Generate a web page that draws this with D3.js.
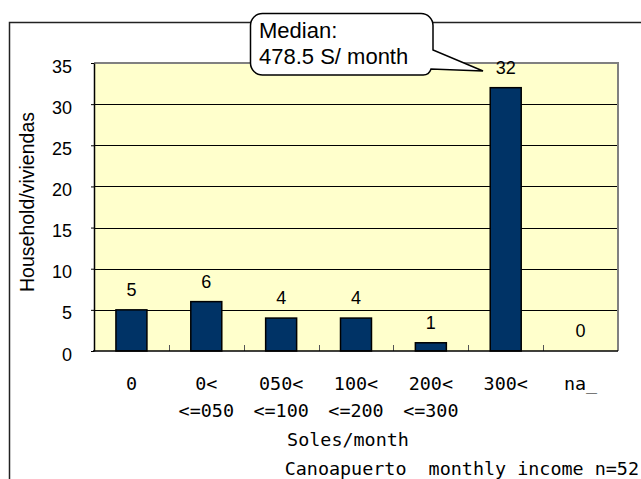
<!DOCTYPE html>
<html>
<head>
<meta charset="utf-8">
<script src="https://cdn.jsdelivr.net/npm/d3@7"></script>
<style>
  html, body { margin: 0; padding: 0; background: #fff; }
  svg { display: block; }
</style>
</head>
<body>
<svg id="chart" width="641" height="479"></svg>
<script>
// Income brackets (two-line tick labels) and household counts
const categories = ["0", "0<=050", "050<=100", "100<=200", "200<=300", "300<", "na_"];
const labelTop = ["0", "0<", "050<", "100<", "200<", "300<", "na_"];
const labelBottom = ["", "<=050", "<=100", "<=200", "<=300", "", ""];
const households = [5, 6, 4, 4, 1, 32, 0];
const yTicks = [0, 5, 10, 15, 20, 25, 30, 35];
const yTitle = "Household/viviendas";
const xTitle = "Soles/month";
const footnote = "Canoapuerto  monthly income n=52";
const calloutLines = ["Median:", "478.5 S/ month"];

const svg = d3.select("#chart");
const W = 641, H = 479;
const plot = { left: 94, right: 618, top: 63, bottom: 351 };

const sans = "'Liberation Sans', Arial, sans-serif";
const mono = "'DejaVu Sans Mono', monospace";

svg.append("rect").attr("width", W).attr("height", H).attr("fill", "#fff");

// outer chart frame (open to the right and bottom)
svg.append("path")
  .attr("d", `M9.5,${H + 2} V22.5 H${W + 2}`)
  .attr("fill", "none").attr("stroke", "#222").attr("stroke-width", 1.5);

const x = d3.scaleBand().domain(categories).range([plot.left, plot.right]).padding(0);
const y = d3.scaleLinear().domain([0, 35]).range([plot.bottom, plot.top]);
const barW = x.bandwidth() * 0.414;

// plot area background
svg.append("rect")
  .attr("x", plot.left).attr("y", plot.top)
  .attr("width", plot.right - plot.left).attr("height", plot.bottom - plot.top)
  .attr("fill", "#FFFFCC");

// gridlines
svg.append("g")
  .selectAll("line")
  .data(yTicks.filter(t => t > 0 && t < 35))
  .join("line")
  .attr("x1", plot.left).attr("x2", plot.right)
  .attr("y1", d => Math.round(y(d)) + 0.5).attr("y2", d => Math.round(y(d)) + 0.5)
  .attr("stroke", "#000").attr("stroke-width", 1);

// top and right border of the plot area
svg.append("path")
  .attr("d", `M${plot.left},${plot.top} H${plot.right} V${plot.bottom}`)
  .attr("fill", "none").attr("stroke", "#808080").attr("stroke-width", 2);

// bars
svg.append("g")
  .selectAll("rect")
  .data(households)
  .join("rect")
  .attr("x", (d, i) => x(categories[i]) + (x.bandwidth() - barW) / 2)
  .attr("y", d => y(d))
  .attr("width", barW)
  .attr("height", d => y(0) - y(d))
  .attr("fill", "#003366")
  .attr("stroke", "#000").attr("stroke-width", 1.5);

// x tick marks between categories (pointing inward)
svg.append("g")
  .selectAll("line")
  .data(categories.slice(1))
  .join("line")
  .attr("x1", d => Math.round(x(d)) + 0.5).attr("x2", d => Math.round(x(d)) + 0.5)
  .attr("y1", plot.bottom).attr("y2", plot.bottom - 6)
  .attr("stroke", "#555").attr("stroke-width", 1);

// y axis
const yAxis = svg.append("g")
  .attr("transform", `translate(${plot.left},0)`)
  .call(d3.axisLeft(y).tickValues(yTicks).tickSize(3).tickSizeOuter(0).tickPadding(19));
yAxis.select(".domain").attr("stroke", "#000").attr("stroke-width", 1.5);
yAxis.selectAll(".tick line").attr("stroke", "#000");
yAxis.selectAll(".tick text")
  .attr("font-family", sans).attr("font-size", 18).attr("fill", "#000")
  .attr("dy", "0.5em");

// x baseline
svg.append("line")
  .attr("x1", plot.left - 1).attr("x2", plot.right)
  .attr("y1", plot.bottom).attr("y2", plot.bottom)
  .attr("stroke", "#000").attr("stroke-width", 1.5);

// value labels
svg.append("g")
  .selectAll("text")
  .data(households)
  .join("text")
  .attr("x", (d, i) => x(categories[i]) + x.bandwidth() / 2)
  .attr("y", d => y(d) - 14)
  .attr("text-anchor", "middle")
  .attr("font-family", sans).attr("font-size", 18)
  .text(d => d);

// category labels
const xl = svg.append("g").attr("font-family", mono).attr("font-size", 18.4).attr("text-anchor", "middle");
xl.selectAll("text.top")
  .data(labelTop).join("text").attr("class", "top")
  .attr("x", (d, i) => x(categories[i]) + x.bandwidth() / 2)
  .attr("y", 390).text(d => d);
xl.selectAll("text.bottom")
  .data(labelBottom).join("text").attr("class", "bottom")
  .attr("x", (d, i) => x(categories[i]) + x.bandwidth() / 2)
  .attr("y", 417).text(d => d);

svg.append("text")
  .attr("x", 348).attr("y", 446).attr("text-anchor", "middle")
  .attr("font-family", mono).attr("font-size", 18.4)
  .text(xTitle);

svg.append("text")
  .attr("x", 639).attr("y", 475).attr("text-anchor", "end")
  .attr("font-family", mono).attr("font-size", 18.4)
  .attr("xml:space", "preserve").style("white-space", "pre")
  .text(footnote);

// y axis title
svg.append("text")
  .attr("transform", "translate(34,202) rotate(-90)")
  .attr("text-anchor", "middle")
  .attr("font-family", sans).attr("font-size", 19.5)
  .text(yTitle);

// median callout with pointer toward the top bracket
const cb = { l: 250.5, t: 13.5, r: 433, b: 75, rad: 12 };
const tip = [483, 71];
const callout = d3.path();
callout.moveTo(cb.l + cb.rad, cb.t);
callout.lineTo(cb.r - cb.rad, cb.t);
callout.arcTo(cb.r, cb.t, cb.r, cb.t + cb.rad, cb.rad);
callout.lineTo(cb.r, 50);
callout.lineTo(tip[0], tip[1]);
callout.lineTo(cb.r - 2, cb.b - 6);
callout.arcTo(cb.r - 4, cb.b, cb.r - cb.rad, cb.b, 8);
callout.lineTo(cb.l + cb.rad, cb.b);
callout.arcTo(cb.l, cb.b, cb.l, cb.b - cb.rad, cb.rad);
callout.lineTo(cb.l, cb.t + cb.rad);
callout.arcTo(cb.l, cb.t, cb.l + cb.rad, cb.t, cb.rad);
callout.closePath();
svg.append("path")
  .attr("d", callout.toString())
  .attr("fill", "#fff").attr("stroke", "#000").attr("stroke-width", 1.5);

svg.append("g")
  .attr("font-family", sans).attr("font-size", 22)
  .selectAll("text")
  .data(calloutLines)
  .join("text")
  .attr("x", 259)
  .attr("y", (d, i) => 38 + i * 26)
  .text(d => d);
</script>
</body>
</html>
